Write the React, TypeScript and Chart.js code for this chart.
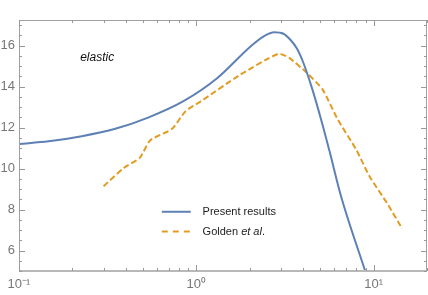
import React, { useEffect, useRef } from "react";
import { Chart, registerables } from "chart.js";

Chart.register(...registerables);

const presentX = [0.1, 0.147, 0.226, 0.349, 0.539, 0.851, 1.315, 2.03, 2.4, 2.75, 3.1, 3.42, 3.7, 4.0, 4.5, 5.09, 5.62, 6.55, 8.96, 9.6];
const presentY = [11.2, 11.33, 11.58, 11.94, 12.5, 13.3, 14.42, 15.97, 16.45, 16.65, 16.58, 16.25, 15.85, 15.2, 13.9, 12.3, 10.9, 8.65, 5.0, 4.2];

const goldenX = [0.3, 0.39, 0.48, 0.55, 0.73, 0.87, 1.06, 1.74, 2.9, 3.34, 4.2, 5.16, 6.28, 7.97, 9.48, 12.05, 14.5];
const goldenY = [9.14, 10.03, 10.52, 11.38, 11.94, 12.8, 13.28, 14.54, 15.6, 15.4, 14.67, 13.85, 12.39, 10.93, 9.62, 8.24, 7.06];

const xTickValues = [0.1, 1, 10];
const xTickLabels = ["10\u207B\u00B9", "10\u2070", "10\u00B9"];
const yTickValues = [6, 8, 10, 12, 14, 16];

const BLUE = "#5e81b5";
const ORANGE = "#e19c24";
const FONT = "'Liberation Sans', Arial, sans-serif";

const framePlugin = {
  id: "frame",
  afterDraw(chart: any) {
    const { ctx, chartArea: a, scales } = chart;
    const xs = scales.x;
    const ys = scales.y;
    ctx.save();
    ctx.strokeStyle = "#a0a0a0";
    ctx.lineWidth = 1;
    ctx.strokeRect(a.left + 0.5, a.top + 0.5, a.right - a.left - 1, a.bottom - a.top - 1);
    ctx.strokeStyle = "#b8b8b8";
    ctx.lineWidth = 2;
    ctx.beginPath();
    ctx.moveTo(a.left, a.bottom);
    ctx.lineTo(a.right, a.bottom);
    ctx.stroke();
    ctx.strokeStyle = "#999";
    ctx.lineWidth = 1;
    ctx.beginPath();
    for (let v = 5; v <= 17.25; v += 0.5) {
      const y = Math.round(ys.getPixelForValue(v)) + 0.5;
      const major = Math.abs(v % 2) < 1e-6;
      const len = major ? 6 : 3;
      ctx.moveTo(a.left, y);
      ctx.lineTo(a.left + len, y);
      ctx.moveTo(a.right, y);
      ctx.lineTo(a.right - len, y);
    }
    for (const d of [0.1, 1, 10]) {
      for (let k = 1; k <= 9; k++) {
        const v = k * d;
        if (v < xs.min || v > xs.max) continue;
        const x = Math.round(xs.getPixelForValue(v)) + 0.5;
        const len = k === 1 ? 6 : 3;
        ctx.moveTo(x, a.bottom);
        ctx.lineTo(x, a.bottom - len);
        ctx.moveTo(x, a.top);
        ctx.lineTo(x, a.top + len);
      }
    }
    ctx.stroke();

    const W = a.right - a.left;
    const H = a.bottom - a.top;
    ctx.fillStyle = "#111";
    ctx.font = `italic 12px ${FONT}`;
    ctx.textBaseline = "middle";
    ctx.textAlign = "left";
    ctx.fillText("elastic", a.left + W * 0.150, a.top + H * 0.152);

    const lx0 = a.left + W * 0.350;
    const lx1 = a.left + W * 0.421;
    const tx = a.left + W * 0.450;
    const y1 = a.top + H * 0.764;
    const y2 = a.top + H * 0.843;
    ctx.lineWidth = 2;
    ctx.strokeStyle = BLUE;
    ctx.beginPath();
    ctx.moveTo(lx0, y1);
    ctx.lineTo(lx1, y1);
    ctx.stroke();
    ctx.strokeStyle = ORANGE;
    ctx.setLineDash([6, 5]);
    ctx.beginPath();
    ctx.moveTo(lx0, y2);
    ctx.lineTo(lx1, y2);
    ctx.stroke();
    ctx.setLineDash([]);
    ctx.fillStyle = "#222";
    ctx.font = `11px ${FONT}`;
    ctx.fillText("Present results", tx, y1);
    const g = "Golden ";
    ctx.fillText(g, tx, y2);
    const gw = ctx.measureText(g).width;
    ctx.font = `italic 11px ${FONT}`;
    const e = "et al";
    ctx.fillText(e, tx + gw, y2);
    const ew = ctx.measureText(e).width;
    ctx.font = `11px ${FONT}`;
    ctx.fillText(".", tx + gw + ew, y2);
    ctx.restore();
  },
};

export default function App() {
  const ref = useRef<HTMLCanvasElement | null>(null);
  useEffect(() => {
    document.body.style.margin = "0";
    if (!ref.current) return;
    const chart = new Chart(ref.current, {
      type: "line",
      data: {
        datasets: [
          {
            label: "Present results",
            data: presentX.map((x, i) => ({ x, y: presentY[i] })),
            borderColor: BLUE,
            borderWidth: 2,
            pointRadius: 0,
            cubicInterpolationMode: "monotone",
            fill: false,
          },
          {
            label: "Golden et al.",
            data: goldenX.map((x, i) => ({ x, y: goldenY[i] })),
            borderColor: ORANGE,
            borderWidth: 2,
            borderDash: [6, 3],
            pointRadius: 0,
            tension: 0.2,
            fill: false,
          },
        ],
      },
      options: {
        animation: false,
        responsive: false,
        maintainAspectRatio: false,
        layout: { padding: { top: 20, right: 1, left: 0, bottom: 0 } },
        plugins: { legend: { display: false }, tooltip: { enabled: false } },
        scales: {
          x: {
            type: "logarithmic",
            min: 0.1,
            max: 20,
            grid: { display: false, drawTicks: false },
            border: { display: false },
            afterBuildTicks: (s: any) => {
              s.ticks = xTickValues.map((v) => ({ value: v }));
            },
            afterFit: (s: any) => {
              s.height = 24;
            },
            ticks: {
              autoSkip: false,
              maxRotation: 0,
              padding: 6,
              color: "#777",
              font: { size: 13, family: FONT },
              callback: (v: any) => {
                const i = xTickValues.findIndex((t) => Math.abs(t - Number(v)) < 1e-9);
                return i >= 0 ? xTickLabels[i] : "";
              },
            },
          },
          y: {
            type: "linear",
            min: 5,
            max: 17.25,
            grid: { display: false, drawTicks: false },
            border: { display: false },
            afterBuildTicks: (s: any) => {
              s.ticks = yTickValues.map((v) => ({ value: v }));
            },
            afterFit: (s: any) => {
              s.width = 19;
            },
            ticks: {
              padding: 4,
              color: "#777",
              font: { size: 13, family: FONT },
            },
          },
        },
      },
      plugins: [framePlugin],
    } as any);
    return () => chart.destroy();
  }, []);
  return (
    <div style={{ width: 428, height: 295 }}>
      <canvas ref={ref} width={428} height={295} style={{ width: 428, height: 295, display: "block" }} />
    </div>
  );
}
